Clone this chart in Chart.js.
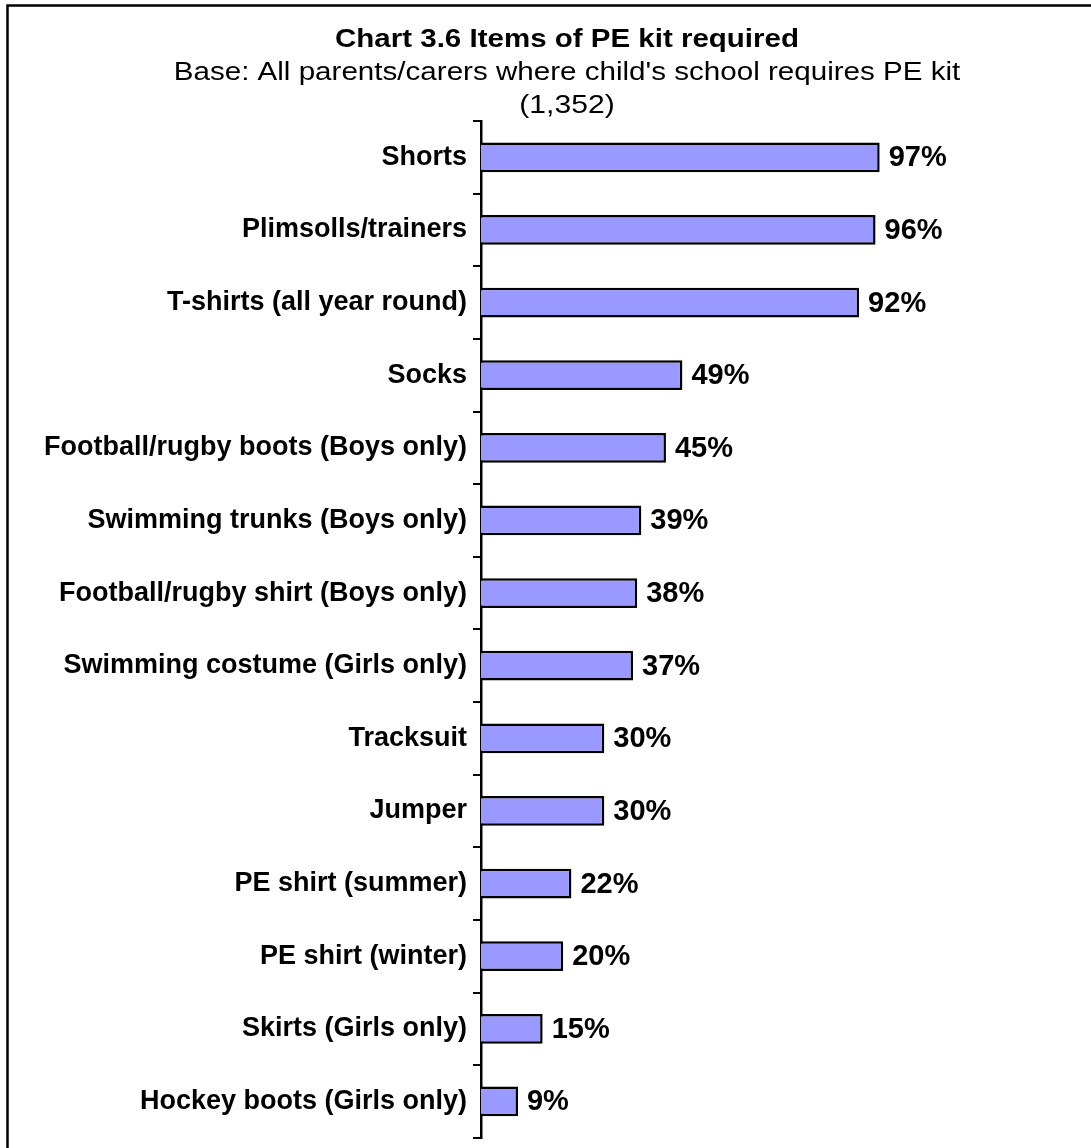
<!DOCTYPE html>
<html>
<head>
<meta charset="utf-8">
<script src="https://cdn.jsdelivr.net/npm/chart.js@4/dist/chart.umd.min.js"></script>
<style>
  html, body { margin: 0; padding: 0; background: #fff; overflow: hidden; }
</style>
</head>
<body>
<canvas id="myChart" width="1091" height="1160"></canvas>
<script>
// Data for the chart
const items = [
    "Shorts",
    "Plimsolls/trainers",
    "T-shirts (all year round)",
    "Socks",
    "Football/rugby boots (Boys only)",
    "Swimming trunks (Boys only)",
    "Football/rugby shirt (Boys only)",
    "Swimming costume (Girls only)",
    "Tracksuit",
    "Jumper",
    "PE shirt (summer)",
    "PE shirt (winter)",
    "Skirts (Girls only)",
    "Hockey boots (Girls only)"
];
const percents = [97, 96, 92, 49, 45, 39, 38, 37, 30, 30, 22, 20, 15, 9];

const titleText = "Chart 3.6 Items of PE kit required";
const subtitleLines = ["Base: All parents/carers where child's school requires PE kit", "(1,352)"];

const FONT = "'Liberation Sans', Arial, sans-serif";

// frame + titles (text is a bit wide in the original, so stretch it a little)
const frameAndTitles = {
    id: "frameAndTitles",
    beforeDraw(chart) {
        const ctx = chart.ctx;
        ctx.save();
        ctx.fillStyle = "#fff";
        ctx.fillRect(0, 0, chart.width, chart.height);
        ctx.strokeStyle = "#000";
        ctx.lineWidth = 2.5;
        ctx.strokeRect(7.5, 5.5, chart.width + 20, chart.height + 20);
        ctx.restore();
    },
    afterDraw(chart) {
        const ctx = chart.ctx;
        const cx = 567;
        const line = (text, y, font, sx) => {
            ctx.save();
            ctx.translate(cx, y);
            ctx.scale(sx, 1);
            ctx.font = font;
            ctx.fillStyle = "#000";
            ctx.textAlign = "center";
            ctx.textBaseline = "alphabetic";
            ctx.fillText(text, 0, 0);
            ctx.restore();
        };
        line(titleText, 47, "bold 25px " + FONT, 1.18);
        line(subtitleLines[0], 80, "25.5px " + FONT, 1.16);
        line(subtitleLines[1], 113, "25.5px " + FONT, 1.18);
    }
};

// value labels at the end of each bar
const valueLabels = {
    id: "valueLabels",
    afterDatasetsDraw(chart) {
        const ctx = chart.ctx;
        const meta = chart.getDatasetMeta(0);
        ctx.save();
        ctx.font = "bold 29px " + FONT;
        ctx.fillStyle = "#000";
        ctx.textAlign = "left";
        ctx.textBaseline = "middle";
        meta.data.forEach((bar, i) => {
            ctx.fillText(percents[i] + "%", bar.x + 9, bar.y + 1);
        });
        ctx.restore();
    }
};

const config = {
    type: "bar",
    data: {
        labels: items,
        datasets: [{
            data: percents,
            backgroundColor: "#9999FF",
            borderColor: "#000",
            borderWidth: 2.5,
            barPercentage: 0.41,
            categoryPercentage: 1.0
        }]
    },
    options: {
        indexAxis: "y",
        responsive: false,
        animation: false,
        layout: {
            padding: { top: 121, bottom: 9, left: 0, right: 199 }
        },
        plugins: {
            legend: { display: false },
            tooltip: { enabled: false },
            title: { display: false }
        },
        scales: {
            x: {
                display: false,
                min: 0,
                max: 100
            },
            y: {
                afterFit(scale) { scale.width = 481; },
                border: { display: true, color: "#000", width: 2.5 },
                grid: {
                    offset: true,
                    drawOnChartArea: false,
                    drawTicks: true,
                    tickLength: 8,
                    color: "#000",
                    lineWidth: 2
                },
                ticks: {
                    autoSkip: false,
                    color: "#000",
                    padding: 6,
                    font: { family: FONT, size: 27, weight: "bold" }
                }
            }
        }
    },
    plugins: [frameAndTitles, valueLabels]
};

const pekitChart = new Chart(document.getElementById("myChart"), config);
</script>
</body>
</html>
